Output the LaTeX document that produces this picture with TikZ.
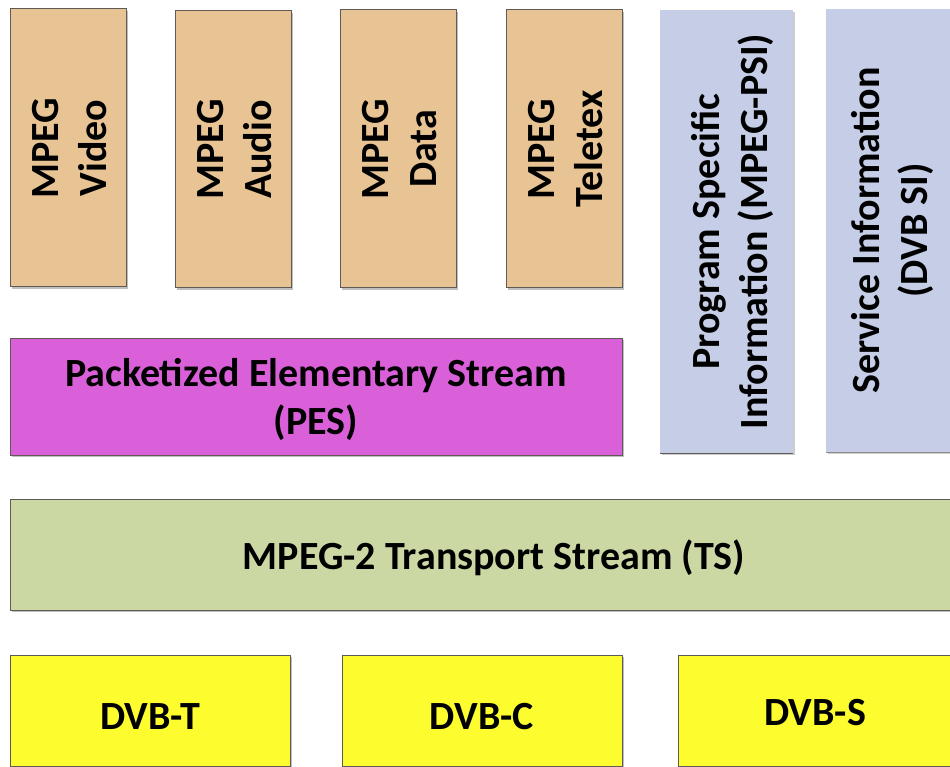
\documentclass[tikz,border=0pt]{standalone}
\usepackage{fontspec}
\setmainfont{Carlito}
\usetikzlibrary{shadows}

\definecolor{tan}{RGB}{232,196,148}
\definecolor{lblue}{RGB}{197,206,230}
\definecolor{pesmag}{RGB}{218,96,218}
\definecolor{tsgreen}{RGB}{203,216,164}
\definecolor{dvbyel}{RGB}{252,252,46}
\definecolor{edge}{RGB}{95,90,85}

\begin{document}
\begin{tikzpicture}[x=1pt,y=-1pt,
  layerbox/.style={draw=edge, line width=1pt, inner sep=0pt,
    drop shadow={shadow xshift=1.5pt, shadow yshift=-2pt, opacity=0.25, fill=black}},
  flatbox/.style={draw=none, inner sep=0pt,
    drop shadow={shadow xshift=1.5pt, shadow yshift=-2pt, opacity=0.2, fill=black}},
  lbl/.style={font=\bfseries\fontsize{40}{48}\selectfont, align=center, text=black, inner sep=0pt},
  vlbl/.style={lbl, rotate=90}]

\useasboundingbox (0,0) rectangle (950,767);

% elementary streams
\node[layerbox, fill=tan, minimum width=116pt, minimum height=278pt] (vid) at (68,148) {};
\node[layerbox, fill=tan, minimum width=116pt, minimum height=277pt] (aud) at (233,149.5) {};
\node[layerbox, fill=tan, minimum width=116pt, minimum height=278pt] (dat) at (398,149) {};
\node[layerbox, fill=tan, minimum width=116pt, minimum height=278pt] (tel) at (564,149) {};
\node[vlbl] (vidt) at ([xshift=2pt]vid) {MPEG\\Video};
\node[vlbl] (audt) at ([xshift=2pt]aud) {MPEG\\Audio};
\node[vlbl] (datt) at ([xshift=2pt]dat) {MPEG\\Data};
\node[vlbl] (telt) at ([xshift=2pt]tel) {MPEG\\Teletex};

% signalling tables
\node[flatbox, fill=lblue, minimum width=133pt, minimum height=443pt] (psi) at (726.5,231.5) {};
\node[flatbox, fill=lblue, minimum width=132pt, minimum height=443pt] (si) at (892,230.5) {};
\draw[edge, line width=1pt] (psi.south west) -- (psi.south east);
\draw[edge!70, line width=0.8pt] (si.south west) -- (si.south east);
\node[vlbl] (psit) at ([xshift=6pt]psi) {Program Specific\\Information (MPEG-PSI)};
\node[vlbl] (sit) at (si) {Service Information\\(DVB SI)};

% packetized elementary stream
\node[layerbox, fill=pesmag, minimum width=612pt, minimum height=117pt] (pes) at (316,396.5) {};
\node[lbl] (pest) at ([yshift=-3pt]pes) {Packetized Elementary Stream\\(PES)};

% transport stream
\node[layerbox, fill=tsgreen, minimum width=968pt, minimum height=111pt] (ts) at (494,554.5) {};
\node[lbl] (tst) at ([yshift=-3pt]ts) {MPEG-2 Transport Stream (TS)};

% delivery systems
\node[layerbox, fill=dvbyel, minimum width=280pt, minimum height=111pt] (dvbt) at (150,710.5) {};
\node[layerbox, fill=dvbyel, minimum width=280pt, minimum height=111pt] (dvbc) at (482,710.5) {};
\node[layerbox, fill=dvbyel, minimum width=274pt, minimum height=111pt] (dvbs) at (815,710.5) {};
\node[lbl] (dvbtt) at ([yshift=-6pt]dvbt) {DVB-T};
\node[lbl] (dvbct) at ([yshift=-6pt]dvbc) {DVB-C};
\node[lbl] (dvbst) at ([yshift=-2pt]dvbs) {DVB-S};

\end{tikzpicture}
\end{document}
